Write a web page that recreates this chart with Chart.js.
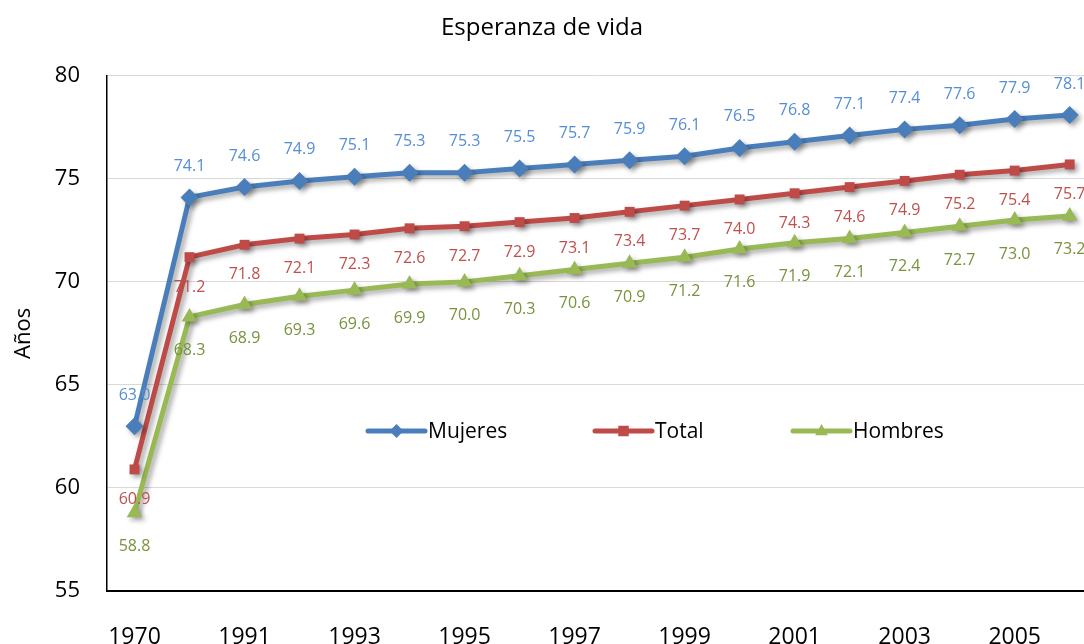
<!DOCTYPE html>
<html>
<head>
<meta charset="utf-8">
<script src="https://cdn.jsdelivr.net/npm/chart.js@4/dist/chart.umd.min.js"></script>
<style>
  html, body { margin: 0; padding: 0; background: #fff; overflow: hidden; }
  #wrap { width: 1084px; height: 644px; position: relative; }
</style>
</head>
<body>
<div id="wrap"><canvas id="c" width="1084" height="644"></canvas></div>
<script>
const categories = ['1970','1990','1991','1992','1993','1994','1995','1996','1997','1998','1999','2000','2001','2002','2003','2004','2005','2006'];
const mujeres = [63.0, 74.1, 74.6, 74.9, 75.1, 75.3, 75.3, 75.5, 75.7, 75.9, 76.1, 76.5, 76.8, 77.1, 77.4, 77.6, 77.9, 78.1];
const total   = [60.9, 71.2, 71.8, 72.1, 72.3, 72.6, 72.7, 72.9, 73.1, 73.4, 73.7, 74.0, 74.3, 74.6, 74.9, 75.2, 75.4, 75.7];
const hombres = [58.8, 68.3, 68.9, 69.3, 69.6, 69.9, 70.0, 70.3, 70.6, 70.9, 71.2, 71.6, 71.9, 72.1, 72.4, 72.7, 73.0, 73.2];
const yTicks = [55, 60, 65, 70, 75, 80];
const seriesNames = ['Mujeres', 'Total', 'Hombres'];
const chartTitle = 'Esperanza de vida';
const yTitle = 'Años';

const FONT = "'Open Sans', 'Noto Sans', sans-serif";

const toPts = arr => arr.map((v, i) => ({ x: i, y: v }));

const labelStyle = [
  { color: '#558ED5', offset: -31 },
  { color: '#C0504D', offset: 30 },
  { color: '#77933C', offset: 34 }
];

const shadowPlugin = {
  id: 'shadow',
  beforeDatasetDraw(chart) {
    const ctx = chart.ctx;
    ctx.save();
    ctx.shadowColor = 'rgba(0,0,0,0.35)';
    ctx.shadowBlur = 5;
    ctx.shadowOffsetX = 3;
    ctx.shadowOffsetY = 3;
  },
  afterDatasetDraw(chart) {
    chart.ctx.restore();
  }
};

const labelsPlugin = {
  id: 'valueLabels',
  afterDatasetsDraw(chart) {
    const ctx = chart.ctx;
    ctx.save();
    ctx.font = '16px ' + FONT;
    ctx.textAlign = 'center';
    ctx.textBaseline = 'middle';
    chart.data.datasets.forEach((ds, di) => {
      const meta = chart.getDatasetMeta(di);
      ctx.fillStyle = labelStyle[di].color;
      meta.data.forEach((pt, i) => {
        const v = ds.data[i].y;
        ctx.fillText(v.toFixed(1), pt.x, pt.y + labelStyle[di].offset);
      });
    });
    ctx.restore();
  }
};

function drawMarker(ctx, style, x, y, r, color) {
  ctx.fillStyle = color;
  ctx.beginPath();
  if (style === 'rectRot') {
    ctx.moveTo(x, y - r); ctx.lineTo(x + r, y); ctx.lineTo(x, y + r); ctx.lineTo(x - r, y);
  } else if (style === 'rect') {
    const s = r * 0.75;
    ctx.rect(x - s, y - s, 2 * s, 2 * s);
  } else {
    ctx.moveTo(x, y - r); ctx.lineTo(x + r * 0.9, y + r * 0.6); ctx.lineTo(x - r * 0.9, y + r * 0.6);
  }
  ctx.closePath();
  ctx.fill();
}

const legendPlugin = {
  id: 'innerLegend',
  afterDatasetsDraw(chart) {
    const ctx = chart.ctx;
    const y = 431;
    const starts = [368, 595, 793];
    ctx.save();
    chart.data.datasets.forEach((ds, di) => {
      const x0 = starts[di];
      const x1 = x0 + 57;
      ctx.strokeStyle = ds.borderColor;
      ctx.lineWidth = 5;
      ctx.lineCap = 'round';
      ctx.beginPath(); ctx.moveTo(x0, y); ctx.lineTo(x1, y); ctx.stroke();
      drawMarker(ctx, ds.pointStyle, (x0 + x1) / 2, y, 7, ds.borderColor);
      ctx.fillStyle = '#000';
      ctx.font = '21px ' + FONT;
      ctx.textAlign = 'left';
      ctx.textBaseline = 'middle';
      ctx.fillText(ds.label, x1 + 3, y + 1);
    });
    ctx.restore();
  }
};

const colors = ['#4A7EBB', '#BE4B48', '#98B954'];
const styles = ['rectRot', 'rect', 'triangle'];
const values = [mujeres, total, hombres];

new Chart(document.getElementById('c'), {
  type: 'line',
  data: {
    datasets: values.map((vals, i) => ({
      label: seriesNames[i],
      data: toPts(vals),
      borderColor: colors[i],
      backgroundColor: colors[i],
      borderWidth: 5,
      pointStyle: styles[i],
      pointRadius: i === 1 ? 7 : 9,
      pointHoverRadius: 9,
      pointBorderWidth: 0,
      tension: 0,
      clip: false
    }))
  },
  options: {
    responsive: false,
    devicePixelRatio: 1,
    animation: false,
    events: [],
    layout: { padding: 0, autoPadding: false },
    plugins: {
      legend: { display: false },
      tooltip: { enabled: false },
      title: {
        display: true,
        text: chartTitle,
        color: '#000',
        font: { family: FONT, size: 24, weight: 'normal', lineHeight: 1.2 },
        padding: { top: 14, bottom: 33 }
      }
    },
    scales: {
      x: {
        type: 'linear',
        min: -0.5,
        max: 17.26,
        afterFit(scale) { scale.height = 53; scale.paddingRight = 0; scale.paddingLeft = 0; },
        afterBuildTicks(scale) {
          scale.ticks = categories.map((c, i) => ({ value: i })).filter(t => t.value % 2 === 0);
        },
        ticks: {
          autoSkip: false,
          maxRotation: 0,
          padding: 33,
          color: '#000',
          font: { family: FONT, size: 23 },
          callback: (v) => categories[v]
        },
        grid: { display: false, drawTicks: false },
        border: { display: true, color: '#000', width: 2 }
      },
      y: {
        min: 55,
        max: 80,
        afterFit(scale) { scale.width = 107; },
        afterBuildTicks(scale) {
          scale.ticks = yTicks.map(v => ({ value: v }));
        },
        ticks: {
          padding: 27,
          color: '#000',
          font: { family: FONT, size: 22 }
        },
        grid: { color: '#D9D9D9', lineWidth: 1, drawTicks: false },
        border: { display: true, color: '#000', width: 1.5 },
        title: {
          display: true,
          text: yTitle,
          color: '#000',
          font: { family: FONT, size: 22 },
          padding: { top: 11, bottom: 0 }
        }
      }
    }
  },
  plugins: [shadowPlugin, labelsPlugin, legendPlugin]
});
</script>
</body>
</html>
